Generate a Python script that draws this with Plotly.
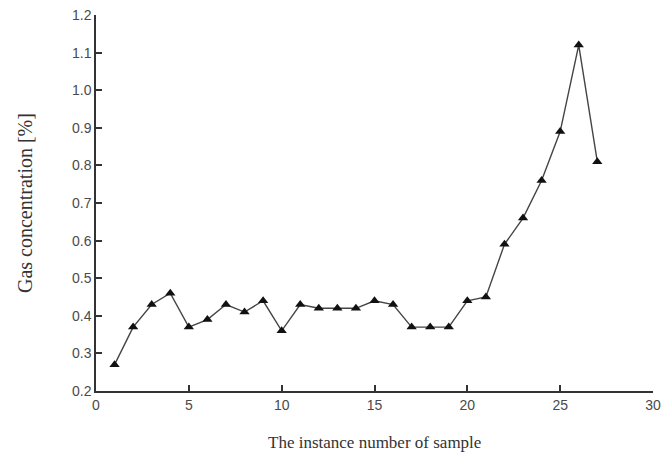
import plotly.graph_objects as go

samples = list(range(1, 28))
gas = [0.27, 0.37, 0.43, 0.46, 0.37, 0.39, 0.43, 0.41, 0.44, 0.36,
       0.43, 0.42, 0.42, 0.42, 0.44, 0.43, 0.37, 0.37, 0.37, 0.44,
       0.45, 0.59, 0.66, 0.76, 0.89, 1.12, 0.81]
x_ticks = [0, 5, 10, 15, 20, 25, 30]
y_ticks = [0.2, 0.3, 0.4, 0.5, 0.6, 0.7, 0.8, 0.9, 1.0, 1.1, 1.2]
y_labels = ["0.2", "0.3", "0.4", "0.5", "0.6", "0.7", "0.8", "0.9", "1.0", "1.1", "1.2"]

fig = go.Figure()
fig.add_trace(go.Scatter(
    x=samples, y=gas, mode="lines+markers",
    line=dict(color="#444444", width=1.4),
    marker=dict(symbol="triangle-up", size=9, color="#111111"),
    showlegend=False, cliponaxis=False,
))

axis_common = dict(
    showline=True, linecolor="#333333", linewidth=1.5,
    ticks="inside", ticklen=6, tickcolor="#333333", tickwidth=1.5,
    showgrid=False, zeroline=False, mirror=False, automargin=False,
    tickfont=dict(family="Liberation Sans, Arial", size=14, color="#4a4a4a"),
)

serif = dict(family="Liberation Serif, Times New Roman", color="#333333")

fig.update_layout(
    width=666, height=455,
    margin=dict(l=96, r=13, t=15, b=64),
    paper_bgcolor="white", plot_bgcolor="white",
    xaxis=dict(range=[0, 30], tickvals=x_ticks, **axis_common),
    yaxis=dict(range=[0.2, 1.2], tickvals=y_ticks, ticktext=y_labels, **axis_common),
    annotations=[
        dict(text="The instance number of sample", xref="paper", yref="paper",
             x=0.5, y=0, yshift=-51, xanchor="center", yanchor="middle",
             showarrow=False, font=dict(size=17, **serif)),
        dict(text="Gas concentration [%]", xref="paper", yref="paper",
             x=0, y=0.5, xshift=-71, xanchor="center", yanchor="middle",
             textangle=-90, showarrow=False, font=dict(size=20, **serif)),
    ],
)

fig.write_html("out.html", config={"displayModeBar": False},
               post_script="document.body.style.margin='0';")
